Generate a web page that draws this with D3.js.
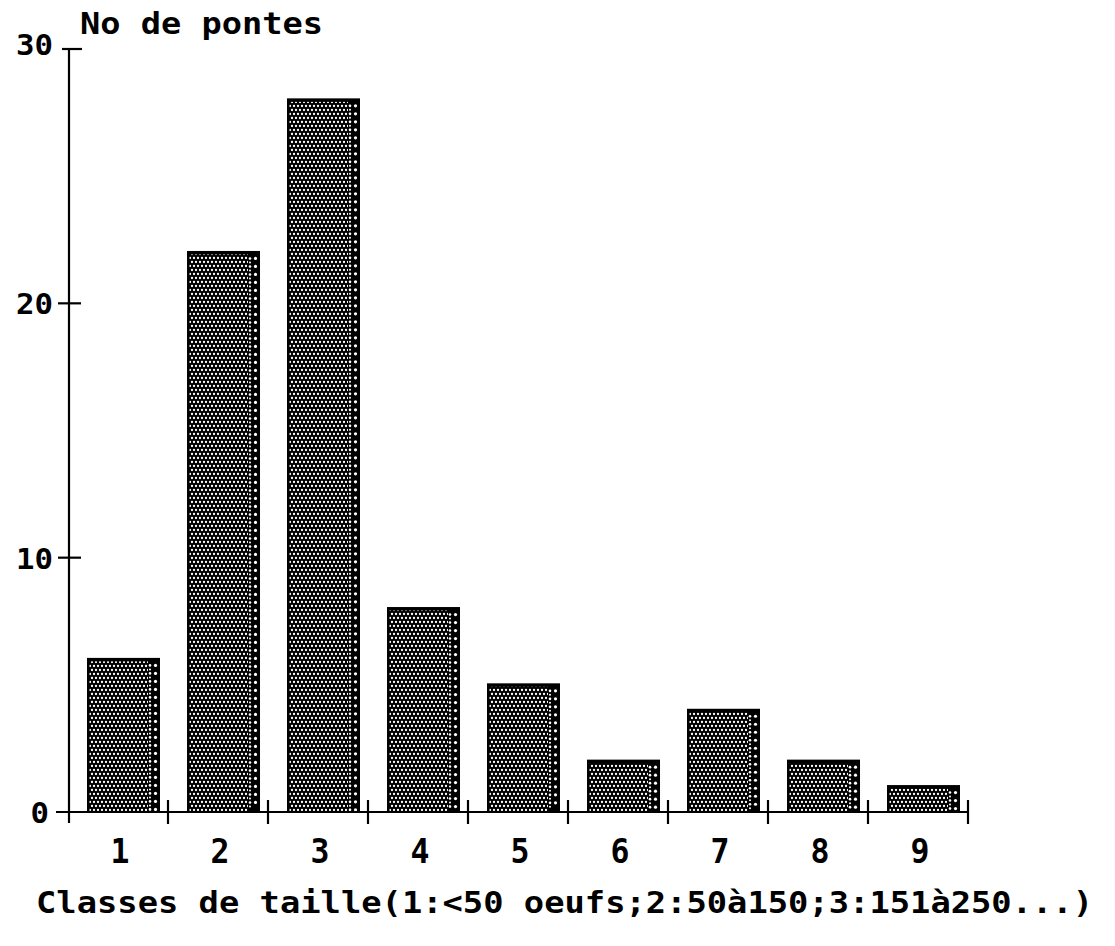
<!DOCTYPE html>
<html><head><meta charset="utf-8">
<script src="https://cdn.jsdelivr.net/npm/d3@7"></script>
<style>html,body{margin:0;padding:0;background:#fff;}svg{display:block;}</style>
</head><body>
<script>
const categories = ["1","2","3","4","5","6","7","8","9"];
const values = [6, 22, 28, 8, 5, 2, 4, 2, 1];
const yTicks = [0, 10, 20, 30];
const yTitle = "No de pontes";
const xTitle = "Classes de taille(1:<50 oeufs;2:50à150;3:151à250...)";

const W = 1115, H = 946;
const svg = d3.select("body").append("svg").attr("width", W).attr("height", H);
const font = "'DejaVu Sans Mono', 'Liberation Mono', monospace";

const x = d3.scaleBand().domain(categories).range([68, 968]).paddingInner(0).paddingOuter(0);
const y = d3.scaleLinear().domain([0, 30]).range([812, 49]);

const defs = svg.append("defs");
const p = defs.append("pattern").attr("id", "dots").attr("patternUnits", "userSpaceOnUse")
  .attr("width", 4).attr("height", 8);
p.append("rect").attr("width", 4).attr("height", 8).attr("fill", "#000");
[[2,2],[0,6],[4,6]].forEach(([cx,cy]) => p.append("circle").attr("cx",cx).attr("cy",cy).attr("r",1.15).attr("fill","#fff"));

const bw = x.bandwidth();
const off = 19, barW = 73, sideW = 12;

const g = svg.append("g");
values.forEach((v, i) => {
  const c = categories[i];
  const x0 = x(c) + off;
  const yt = y(v), yb = y(0);
  g.append("rect").attr("x", x0).attr("y", yt).attr("width", barW - sideW).attr("height", yb - yt)
    .attr("fill", "url(#dots)");
  g.append("rect").attr("x", x0 + barW - sideW).attr("y", yt).attr("width", sideW).attr("height", yb - yt)
    .attr("fill", "#000");
  for (let cy = yt + 6; cy < yb - 2; cy += 8) {
    g.append("circle").attr("cx", x0 + barW - sideW + 2).attr("cy", cy).attr("r", 1.3).attr("fill", "#fff");
    g.append("circle").attr("cx", x0 + barW - sideW + 2).attr("cy", cy + 4 < yb - 2 ? cy + 4 : cy).attr("r", 1.0).attr("fill", "#fff");
    g.append("circle").attr("cx", x0 + barW - 4.5).attr("cy", cy).attr("r", 1.6).attr("fill", "#fff");
  }
  g.append("rect").attr("x", x0).attr("y", yt - 1.5).attr("width", barW).attr("height", 3.5).attr("fill", "#000");
  g.append("rect").attr("x", x0).attr("y", yt).attr("width", 2.5).attr("height", yb - yt).attr("fill", "#000");
  g.append("rect").attr("x", x0 + barW - 2).attr("y", yt).attr("width", 2).attr("height", yb - yt).attr("fill", "#000");
});

const ax = svg.append("g").attr("stroke", "#000").attr("stroke-width", 2.2).attr("fill", "none");
ax.append("line").attr("x1", 69).attr("x2", 69).attr("y1", y(30)).attr("y2", y(0) + 11);
ax.append("line").attr("x1", 56).attr("x2", 968).attr("y1", y(0)).attr("y2", y(0));
yTicks.forEach(t => {
  if (t === 30) ax.append("line").attr("x1", 62).attr("x2", 82).attr("y1", y(t)).attr("y2", y(t));
  else if (t !== 0) ax.append("line").attr("x1", 58).attr("x2", 81).attr("y1", y(t)).attr("y2", y(t));
});
categories.forEach(c => {
  const px = x(c) + bw;
  ax.append("line").attr("x1", px).attr("x2", px).attr("y1", y(0) - 12).attr("y2", y(0) + 12);
});

const tg = svg.append("g").attr("font-family", font).attr("font-weight", "bold").attr("fill", "#000");
yTicks.forEach(t => {
  const s = String(t);
  tg.append("text").attr("x", t === 0 ? 49 : 53).attr("y", y(t) + (t === 30 ? 6 : 11)).attr("text-anchor", "end")
    .attr("font-size", 29).attr("textLength", s.length * 18.5).attr("lengthAdjust", "spacingAndGlyphs").text(s);
});
categories.forEach(c => {
  tg.append("text").attr("x", x(c) + bw / 2 + 2).attr("y", 863).attr("text-anchor", "middle")
    .attr("font-size", 33).attr("textLength", 19).attr("lengthAdjust", "spacingAndGlyphs").text(c);
});
tg.append("text").attr("x", 80).attr("y", 34).attr("font-size", 30)
  .attr("textLength", 243).attr("lengthAdjust", "spacingAndGlyphs").text(yTitle);
tg.append("text").attr("x", 36).attr("y", 913).attr("font-size", 30)
  .attr("textLength", 1057).attr("lengthAdjust", "spacingAndGlyphs").text(xTitle);
</script>
</body></html>
